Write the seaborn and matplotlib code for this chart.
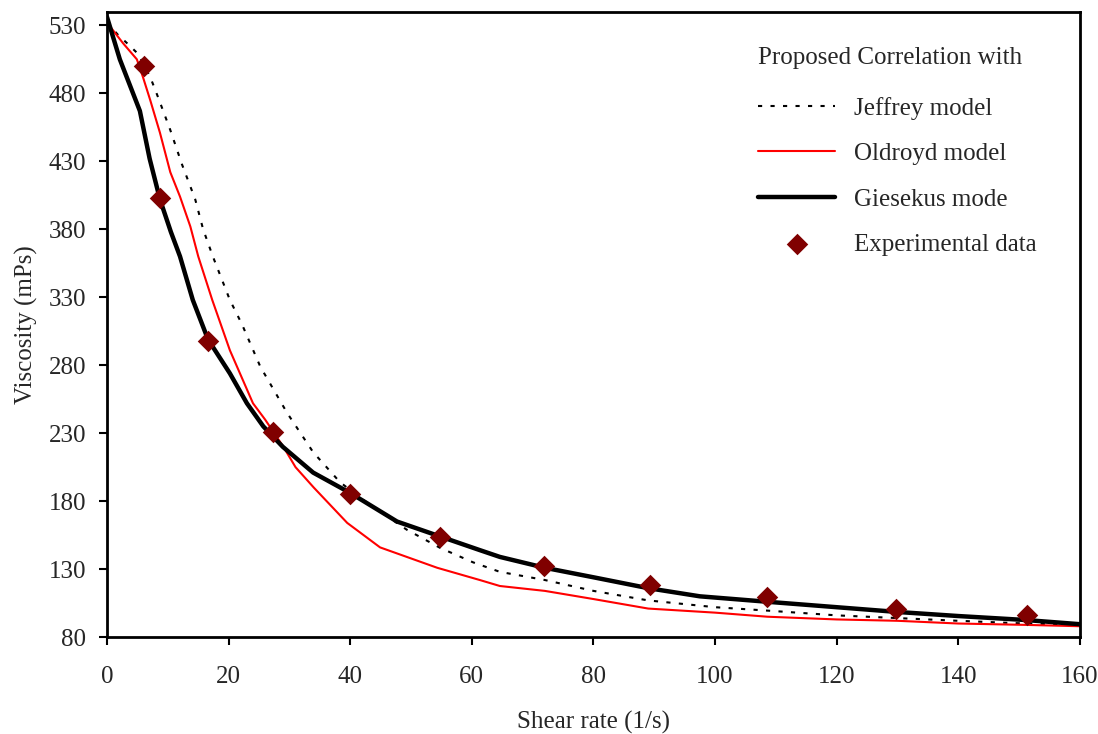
import numpy as np
import pandas as pd
import seaborn as sns
import matplotlib.pyplot as plt

# values
jeffrey_x = [0, 1.8, 3.5, 5.1, 7.1, 8.4, 10.4, 12.3, 14.5, 15.8, 17.4, 20.2, 22.2, 25.2, 29.6,
             33.9, 38.3, 42.1, 49.3, 54.8, 60.2, 64.6, 72, 80, 89, 100, 108.6, 120, 130, 140, 151, 160]
jeffrey_y = [532, 523, 516, 509, 492, 477, 453, 428, 402, 380, 360, 328, 310, 279, 245,
             216, 194, 181, 159, 145.6, 135, 128, 122, 114, 107, 102, 99.5, 96, 94, 92, 90, 89]

oldroyd_x = [0, 2.6, 4.9, 5.9, 7.1, 8.7, 10.4, 12, 13.7, 15, 17.3, 20.2, 24, 26, 27.5, 29, 31,
             34, 39.5, 44.9, 54.3, 61.3, 64.6, 72, 80, 89, 100, 108.6, 120, 130, 140, 151, 160]
oldroyd_y = [532, 517, 505, 492, 475, 451, 422, 404, 382, 360, 328, 291, 252, 240, 230, 220, 205,
             190, 164, 146, 131, 122, 117.6, 114, 108, 101, 98, 95, 93, 92, 90, 89, 88]

giesekus_x = [0, 2.1, 5.4, 7, 8.7, 10.5, 12, 14.1, 16.6, 20.2, 23, 25.7, 28.9, 33.9, 40, 47.7,
              54.8, 61.3, 64.6, 72, 80, 89, 97.5, 108.6, 120, 130, 140, 151, 160]
giesekus_y = [536, 505, 467, 432, 402, 378, 360, 328, 299, 274, 252, 235, 220, 201, 186, 165,
              154, 144, 139, 131, 124, 116, 110, 106, 102, 98.5, 95.5, 92.6, 89.5]

exp_x = [6, 8.7, 16.6, 27.3, 40, 54.8, 71.9, 89.3, 108.6, 129.8, 151.3]
exp_y = [500, 403, 298, 231, 185.4, 154, 132, 118.4, 109.5, 100.7, 96.3]

sns.set_style('white')
plt.rcParams['font.family'] = ['Liberation Serif', 'DejaVu Serif']

fig = plt.figure(figsize=(10.98, 7.34), dpi=100)
ax = fig.add_axes([0.0975, 0.132, 0.886, 0.852])

sns.lineplot(x=jeffrey_x, y=jeffrey_y, ax=ax, color='black', lw=1.5,
             linestyle=(0, (2, 4)), sort=False, estimator=None, label='Jeffrey model')
sns.lineplot(x=oldroyd_x, y=oldroyd_y, ax=ax, color='#ff0000', lw=1.5,
             sort=False, estimator=None, label='Oldroyd model')
sns.lineplot(x=giesekus_x, y=giesekus_y, ax=ax, color='black', lw=3.2,
             sort=False, estimator=None, label='Giesekus mode')
sns.scatterplot(x=exp_x, y=exp_y, ax=ax, marker='D', color='#800000', s=120,
                edgecolor='#800000', linewidth=0, zorder=5, label='Experimental data')

ax.set_xlim(0, 160)
ax.set_ylim(80, 540)
ax.set_xticks(np.arange(0, 161, 20))
ax.set_yticks(np.arange(80, 531, 50))
ax.tick_params(direction='out', length=6, width=1.5, labelsize=18, color='black',
               bottom=True, left=True)
ax.tick_params(axis='y', pad=9)
ax.tick_params(axis='x', pad=15)
for s in ax.spines.values():
    s.set_color('black')
    s.set_linewidth(2)

ax.set_xlabel('Shear rate (1/s)', fontsize=18, labelpad=16)
ax.set_ylabel('Viscosity (mPs)', fontsize=18, labelpad=8)

leg = ax.legend(title='Proposed Correlation with', loc='upper left',
                bbox_to_anchor=(0.669, 0.944), frameon=False, fontsize=18,
                title_fontsize=18, handlelength=3.1, handletextpad=0.75,
                labelspacing=0.92, borderpad=0, borderaxespad=0)
leg._legend_box.align = 'left'
leg._legend_box.sep = 20

fig.savefig('out.png', dpi=100)
